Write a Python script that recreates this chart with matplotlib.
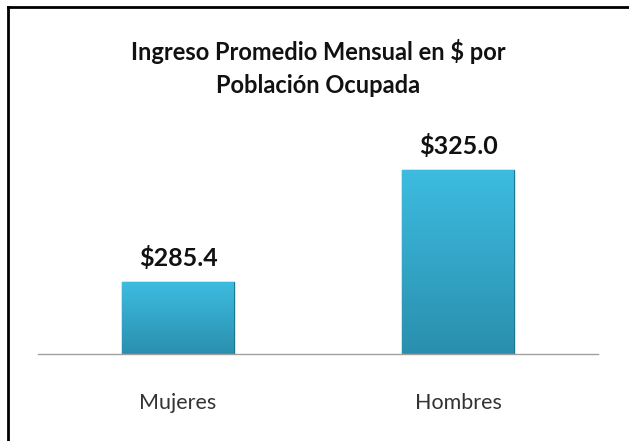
import numpy as np
import matplotlib
matplotlib.use("Agg")
import matplotlib.pyplot as plt
from matplotlib.lines import Line2D

categories = ["Mujeres", "Hombres"]
values = [285.4, 325.0]
labels = ["$285.4", "$325.0"]
title = "Ingreso Promedio Mensual en \\$ por\nPoblación Ocupada"

plt.rcParams["font.family"] = ["Lato", "DejaVu Sans"]

fig = plt.figure(figsize=(6.29, 4.41), dpi=100)
ax = fig.add_axes([38 / 629, 87 / 441, 560 / 629, 255 / 441])

x = np.arange(len(categories))
bars = ax.bar(x, values, width=0.4, bottom=0, color="#35ACD0", edgecolor="#1F7892", linewidth=1.0, zorder=2)

ax.set_xlim(-0.5, 1.5)
ax.set_ylim(260, 350)

# vertical gradient inside each bar
grad = np.linspace(0, 1, 256).reshape(-1, 1)
cmap = matplotlib.colors.LinearSegmentedColormap.from_list("g", ["#2A8FAE", "#3DBCE0"])
for b in bars:
    x0, w, h = b.get_x(), b.get_width(), b.get_height()
    im = ax.imshow(grad, extent=[x0, x0 + w, 260, h], origin="lower", cmap=cmap, aspect="auto", zorder=2.5)
    im.set_clip_path(b)
ax.set_aspect("auto")

for xi, v, lab in zip(x, values, labels):
    ax.text(xi, v + 4.3, lab.replace("$", "\\$"), ha="center", va="bottom", fontsize=18, fontweight="bold", color="#111111")

for s in ["top", "right", "left"]:
    ax.spines[s].set_visible(False)
ax.spines["bottom"].set_color("#A0A0A0")
ax.spines["bottom"].set_linewidth(1.0)
ax.set_yticks([])
ax.set_xticks(x)
ax.set_xticklabels(categories, fontsize=15.5, color="#333333")
ax.tick_params(axis="x", length=0, pad=28)

fig.text(0.506, 1 - 68 / 441, title, ha="center", va="center", fontsize=17, fontweight="bold", color="#111111", linespacing=1.55)

# border (top and left only visible in reference)
fig.add_artist(Line2D([8 / 629, 8 / 629], [0, 1 - 7 / 441], transform=fig.transFigure, color="black", lw=2))
fig.add_artist(Line2D([8 / 629, 1], [1 - 7 / 441, 1 - 7 / 441], transform=fig.transFigure, color="black", lw=2))

fig.savefig("out.png", dpi=100)
